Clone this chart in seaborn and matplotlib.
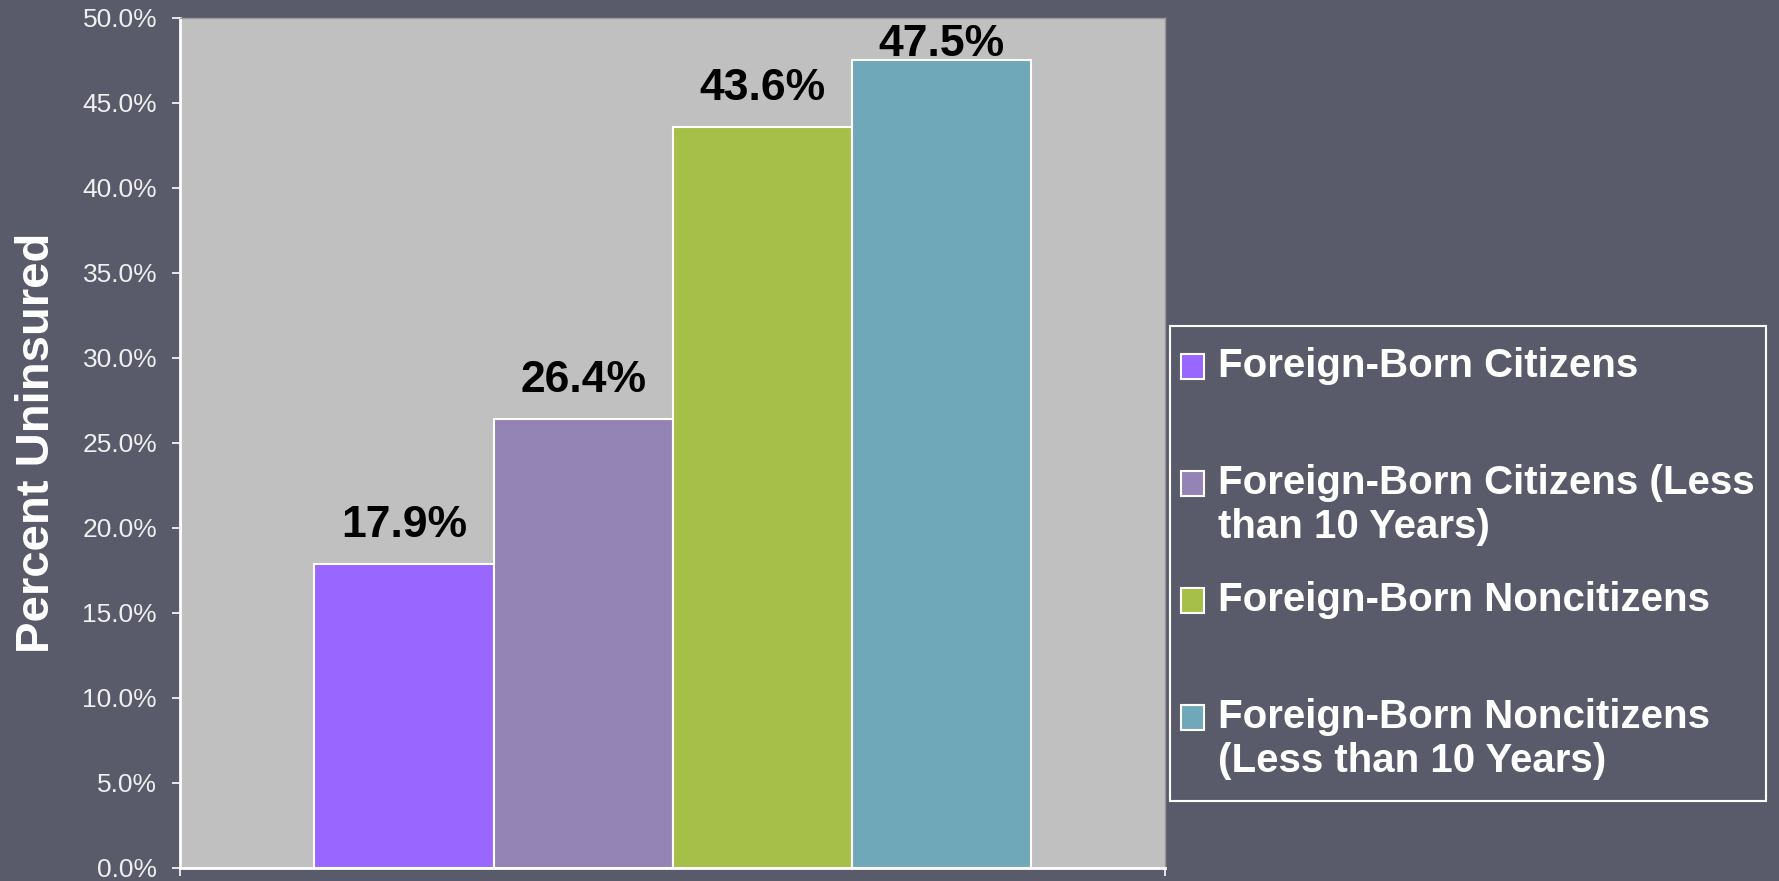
import matplotlib
matplotlib.use("Agg")
import matplotlib.pyplot as plt
import matplotlib.patches as mpatches
from matplotlib.legend_handler import HandlerPatch
import pandas as pd
import seaborn as sns

sns.set_style("white")
plt.rcParams["font.family"] = ["Liberation Sans", "DejaVu Sans"]

groups = ["Foreign-Born Citizens",
          "Foreign-Born Citizens (Less than 10 Years)",
          "Foreign-Born Noncitizens",
          "Foreign-Born Noncitizens (Less than 10 Years)"]
legend_labels = ["Foreign-Born Citizens\n",
                 "Foreign-Born Citizens (Less\nthan 10 Years)",
                 "Foreign-Born Noncitizens\n",
                 "Foreign-Born Noncitizens\n(Less than 10 Years)"]
pct_uninsured = [17.9, 26.4, 43.6, 47.5]
colors = ["#9966ff", "#9483b5", "#a6bf48", "#6fa8b8"]
yticks = [0, 5, 10, 15, 20, 25, 30, 35, 40, 45, 50]

bg = "#595b6b"
fig = plt.figure(figsize=(17.79, 8.81), dpi=100, facecolor=bg)
ax = fig.add_axes([0.1012, 0.0148, 0.5537, 0.9648])
ax.set_facecolor("#c0c0c0")

df = pd.DataFrame({"x": [""] * len(groups), "group": groups, "pct": pct_uninsured})
sns.barplot(data=df, x="x", y="pct", hue="group", hue_order=groups, palette=colors,
            saturation=1, width=0.727, edgecolor="white", linewidth=1.5,
            errorbar=None, legend=False, ax=ax)

# value labels; the tallest one is pushed down so it stays inside the plot
for cont, v in zip(ax.containers, pct_uninsured):
    ax.bar_label(cont, labels=[f"{v:.1f}%"], padding=13 if v < 45 else -3.5,
                 fontsize=32, fontweight="bold", color="black")

ax.set_ylim(0, 50)
ax.set_yticks(yticks, [f"{t:.1f}%" for t in yticks])
ax.set_xlim(-0.5, 0.5)
ax.set_xticks([-0.5, 0.5], ["", ""])
ax.tick_params(axis="both", direction="out", length=5.5, width=1.2, color="white",
               labelcolor="#f0f0f0", labelsize=19, pad=11, left=True, bottom=True)
ax.set_xlabel("")
ax.set_ylabel("Percent Uninsured", fontsize=34, fontweight="bold", color="white", labelpad=16.5)

for s in ["left", "bottom"]:
    ax.spines[s].set_color("white")
    ax.spines[s].set_linewidth(2)
for s in ["top", "right"]:
    ax.spines[s].set_color("#9a9a9a")
    ax.spines[s].set_linewidth(1)


def raised_square(legend, orig_handle, xdescent, ydescent, width, height, fontsize):
    # line the swatch up with the first line of a two-line label
    return mpatches.Rectangle((-xdescent, -ydescent + 0.55 * fontsize), width, height)


handles = [mpatches.Patch(facecolor=c, edgecolor="white", linewidth=1.5) for c in colors]
leg = fig.legend(handles, legend_labels, loc="upper left",
                 bbox_to_anchor=(1181 / 1779, 1 - 347 / 881), borderaxespad=0,
                 prop={"weight": "bold", "size": 29}, labelcolor="white",
                 handlelength=0.57, handleheight=0.57, handletextpad=0.35,
                 borderpad=0, labelspacing=0.87, frameon=True, fancybox=False,
                 facecolor=bg, edgecolor="white", framealpha=1,
                 handler_map={mpatches.Patch: HandlerPatch(patch_func=raised_square)})
leg.get_frame().set_linewidth(1.5)
leg.legendPatch.set_boxstyle("square", pad=0.27)
leg.legendPatch.set_mutation_aspect(1.9)

plt.savefig("out.png", dpi=100, facecolor=bg)
